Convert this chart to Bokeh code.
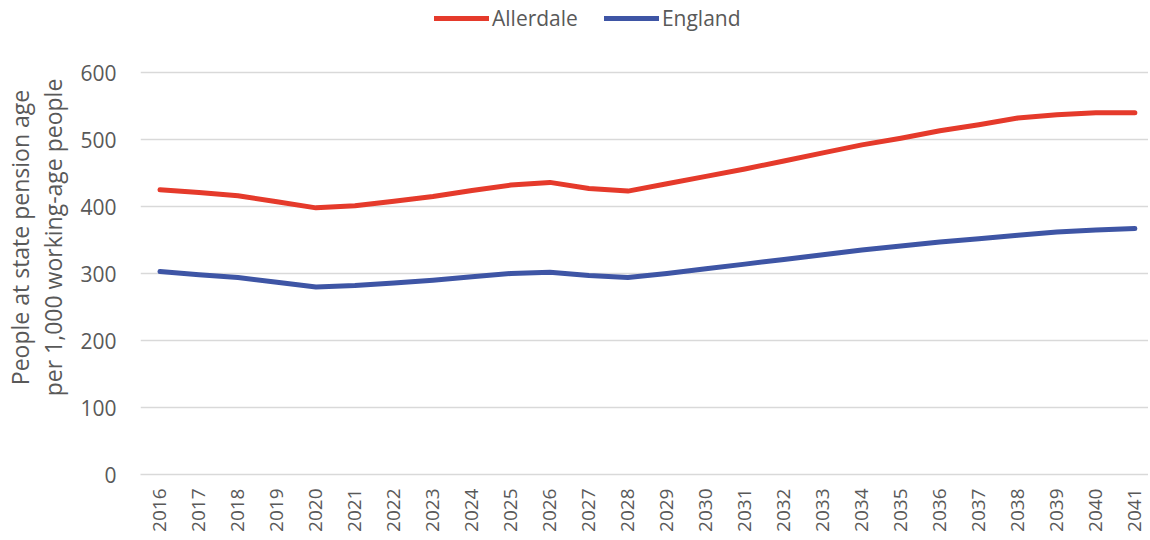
import math
from bokeh.plotting import figure
from bokeh.models import Legend, LegendItem, Range1d, FixedTicker
from bokeh.embed import file_html
from bokeh.resources import INLINE

years = list(range(2016, 2042))
allerdale = [425, 421, 416, 407, 398, 401, 408, 415, 424, 432, 436, 427, 423,
             434, 445, 456, 468, 480, 492, 502, 513, 522, 532, 537, 540, 540]
england = [303, 298, 294, 287, 280, 282, 286, 290, 295, 300, 302, 297, 294,
           300, 307, 314, 321, 328, 335, 341, 347, 352, 357, 362, 365, 367]
y_ticks = [0, 100, 200, 300, 400, 500, 600]
series_names = ["Allerdale", "England"]
colors = ["#E53A2B", "#3E55A5"]
text_color = "#595959"
font = "Open Sans"

# frame: top of canvas down to y=0 at 474px; 600 sits at 72px
p = figure(width=1148, height=536, output_backend="svg", toolbar_location=None,
           x_range=Range1d(2015.5, 2041.35), y_range=Range1d(0, 707.5),
           min_border_left=136, min_border_right=0, min_border_top=0,
           min_border_bottom=62)
p.outline_line_color = None
p.background_fill_color = "white"

r1 = p.line(years, allerdale, line_color=colors[0], line_width=5,
            line_join="round", line_cap="round")
r2 = p.line(years, england, line_color=colors[1], line_width=5,
            line_join="round", line_cap="round")

# axes
p.xaxis.ticker = FixedTicker(ticks=years)
p.xaxis.major_label_orientation = math.pi / 2
p.xaxis.major_label_text_font = font
p.xaxis.major_label_text_font_size = "19px"
p.xaxis.major_label_text_color = text_color
p.xaxis.major_tick_line_color = None
p.xaxis.major_tick_out = 0
p.xaxis.major_tick_in = 0
p.xaxis.minor_tick_line_color = None
p.xaxis.axis_line_color = "#d9d9d9"
p.xaxis.axis_line_width = 1.5
p.xaxis.major_label_standoff = 14

p.yaxis.ticker = FixedTicker(ticks=y_ticks)
p.yaxis.major_label_text_font = font
p.yaxis.major_label_text_font_size = "21px"
p.yaxis.major_label_text_color = text_color
p.yaxis.major_tick_line_color = None
p.yaxis.major_tick_out = 0
p.yaxis.major_tick_in = 0
p.yaxis.minor_tick_line_color = None
p.yaxis.axis_line_color = None
p.yaxis.major_label_standoff = 24
p.yaxis.axis_label = "People at state pension age\nper 1,000 working-age people"
p.yaxis.axis_label_text_font = font
p.yaxis.axis_label_text_font_size = "23px"
p.yaxis.axis_label_text_font_style = "normal"
p.yaxis.axis_label_text_color = text_color
p.yaxis.axis_label_text_line_height = 1.05
p.yaxis.axis_label_standoff = 8

p.xgrid.grid_line_color = None
p.ygrid.grid_line_color = "#d9d9d9"
p.ygrid.grid_line_width = 1.5

legend = Legend(items=[LegendItem(label=series_names[0], renderers=[r1]),
                       LegendItem(label=series_names[1], renderers=[r2])],
                orientation="horizontal", location=(294, 442),
                label_text_font=font, label_text_font_size="21px",
                label_text_color=text_color, glyph_width=55, glyph_height=20,
                label_height=20, label_standoff=3, spacing=26, padding=0,
                margin=0, border_line_color=None, background_fill_alpha=0)
p.add_layout(legend, "center")

open("out.html", "w").write(file_html(p, INLINE))
